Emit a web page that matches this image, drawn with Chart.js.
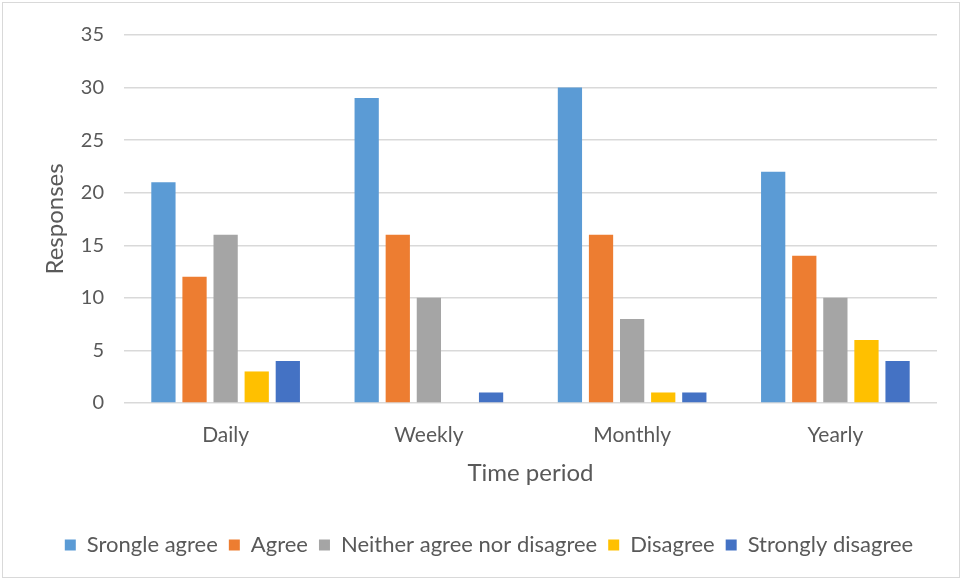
<!DOCTYPE html>
<html>
<head>
<meta charset="utf-8">
<script src="https://cdn.jsdelivr.net/npm/chart.js@4.4.0/dist/chart.umd.min.js"></script>
<style>
  html, body { margin: 0; padding: 0; background: #fff; }
  #frame {
    position: absolute; left: 2px; top: 2px;
    width: 956px; height: 574px;
    border: 1px solid #d9d9d9;
  }
  #chart { display: block; }
</style>
</head>
<body>
<div id="frame"><canvas id="chart" width="956" height="574"></canvas></div>
<script>
var periods = ["Daily", "Weekly", "Monthly", "Yearly"];
var seriesNames = ["Srongle agree", "Agree", "Neither agree nor disagree", "Disagree", "Strongly disagree"];
var strongAgree = [21, 29, 30, 22];
var agree = [12, 16, 16, 14];
var neither = [16, 10, 8, 10];
var disagree = [3, 0, 1, 6];
var strongDisagree = [4, 1, 1, 4];
var yTicks = [0, 5, 10, 15, 20, 25, 30, 35];

var colorList = [
    "#5B9BD5",  // light blue
    "#ED7D31",  // orange
    "#A5A5A5",  // grey
    "#FFC000",  // yellow
    "#4472C4"   // blue
];

var allValues = [strongAgree, agree, neither, disagree, strongDisagree];
var allDatasets = [];
for (var i = 0; i < seriesNames.length; i++) {
    allDatasets.push({
        label: seriesNames[i],
        data: allValues[i],
        backgroundColor: colorList[i],
        borderWidth: 0,
        categoryPercentage: 0.765,
        barPercentage: 0.78
    });
}

var fontFamily = "Lato, 'Open Sans', sans-serif";
var textColor = "#595959";

new Chart("chart", {
    type: "bar",
    data: { labels: periods, datasets: allDatasets },
    options: {
        responsive: false,
        animation: false,
        layout: { padding: { left: 38, right: 22, top: 13, bottom: 11 } },
        plugins: {
            legend: {
                position: "bottom",
                labels: {
                    color: textColor,
                    font: { size: 22, family: fontFamily },
                    boxWidth: 11,
                    boxHeight: 11,
                    padding: 11
                }
            },
            tooltip: { enabled: false }
        },
        scales: {
            y: {
                min: 0,
                max: 35,
                afterBuildTicks: function (axis) {
                    axis.ticks = yTicks.map(function (v) { return { value: v }; });
                },
                border: { display: false },
                grid: { color: "#d9d9d9", lineWidth: 1.5, drawTicks: false },
                ticks: {
                    color: textColor,
                    font: { size: 20, family: fontFamily },
                    padding: 20
                },
                title: {
                    display: true,
                    text: "Responses",
                    color: textColor,
                    font: { size: 24, family: fontFamily },
                    padding: { top: 0, bottom: -9 }
                }
            },
            x: {
                border: { display: false },
                grid: { display: false, drawTicks: false },
                ticks: {
                    color: textColor,
                    font: { size: 21, family: fontFamily },
                    padding: 20
                },
                title: {
                    display: true,
                    text: "Time period",
                    color: textColor,
                    font: { size: 24, family: fontFamily },
                    padding: { top: -9, bottom: 35 }
                }
            }
        }
    }
});
</script>
</body>
</html>
